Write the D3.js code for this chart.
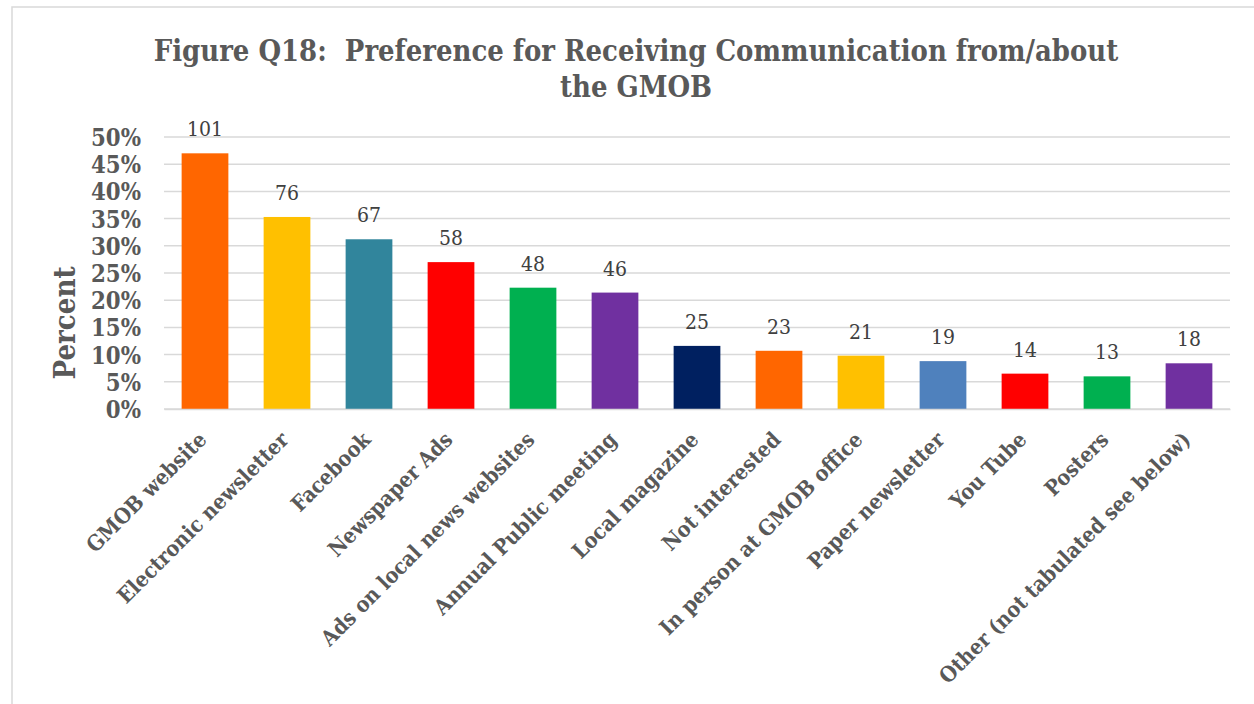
<!DOCTYPE html>
<html>
<head>
<meta charset="utf-8">
<script src="https://cdn.jsdelivr.net/npm/d3@7"></script>
<style>
  body { margin: 0; background: #ffffff; }
  svg text { font-family: "DejaVu Serif Condensed", "DejaVu Serif", "Liberation Serif", serif; font-stretch: condensed; }
</style>
</head>
<body>
<svg id="chart" width="1254" height="704"></svg>
<script>
// categories, counts shown over bars, and percent of respondents (bar height)
const categories = ["GMOB website", "Electronic newsletter", "Facebook", "Newspaper Ads",
    "Ads on local news websites", "Annual Public meeting", "Local magazine", "Not interested",
    "In person at GMOB office", "Paper newsletter", "You Tube", "Posters",
    "Other (not tabulated see below)"];
const counts = [101, 76, 67, 58, 48, 46, 25, 23, 21, 19, 14, 13, 18];
const percents = [47.0, 35.3, 31.2, 27.0, 22.3, 21.4, 11.6, 10.7, 9.8, 8.8, 6.5, 6.0, 8.4];
const barColors = ["#FF6600", "#FFC000", "#31859C", "#FF0000", "#00B050", "#7030A0",
    "#002060", "#FF6600", "#FFC000", "#4F81BD", "#FF0000", "#00B050", "#7030A0"];
const yTicks = [0, 5, 10, 15, 20, 25, 30, 35, 40, 45, 50];

const svg = d3.select("#chart");

// size a group of labels so that one sample text gets the wanted width
function fitFont(sel, sampleNode, target) {
    sel.style("font-size", "20px");
    let w = sampleNode.getComputedTextLength();
    sel.style("font-size", (20 * target / w).toFixed(2) + "px");
}

// outer chart border
svg.append("rect")
    .attr("x", 12).attr("y", 7)
    .attr("width", 1260).attr("height", 720)
    .attr("fill", "none")
    .attr("stroke", "#d9d9d9")
    .attr("stroke-width", 1.5);

const margin = { top: 137, left: 164, right: 24, bottom: 295 };
const width = 1254 - margin.left - margin.right;
const height = 704 - margin.top - margin.bottom;

const g = svg.append("g").attr("transform", `translate(${margin.left},${margin.top})`);

const x = d3.scaleBand().domain(categories).range([0, width]).paddingInner(0.43).paddingOuter(0.215);
const y = d3.scaleLinear().domain([0, 50]).range([height, 0]);

// gridlines
g.selectAll(".grid")
    .data(yTicks)
    .enter()
    .append("line")
    .attr("x1", 0).attr("x2", width)
    .attr("y1", d => y(d)).attr("y2", d => y(d))
    .attr("stroke", "#d9d9d9")
    .attr("stroke-width", 1.5);

// y axis labels
const yAxis = g.append("g")
    .call(d3.axisLeft(y).tickValues(yTicks).tickFormat(d => d + "%").tickSize(0).tickPadding(23));
yAxis.select(".domain").remove();
const yLabels = yAxis.selectAll("text")
    .attr("fill", "#595959")
    .attr("dy", "0.36em")
    .style("font-weight", "bold");
fitFont(yLabels, yLabels.nodes()[yLabels.size() - 1], 50);

// bars
g.selectAll(".bar")
    .data(percents)
    .enter()
    .append("rect")
    .attr("x", (d, i) => x(categories[i]))
    .attr("y", d => y(d))
    .attr("width", x.bandwidth())
    .attr("height", d => height - y(d))
    .attr("fill", (d, i) => barColors[i]);

// value labels
const vals = g.selectAll(".val")
    .data(counts)
    .enter()
    .append("text")
    .attr("x", (d, i) => x(categories[i]) + x.bandwidth() / 2)
    .attr("y", (d, i) => y(percents[i]) - 17)
    .attr("text-anchor", "middle")
    .attr("fill", "#404040")
    .text(d => d);
fitFont(vals, vals.nodes()[0], 36);

// x axis
const xAxis = g.append("g")
    .attr("transform", `translate(0,${height})`)
    .call(d3.axisBottom(x).tickSize(0).tickPadding(0));
xAxis.select(".domain").attr("stroke", "#d9d9d9").attr("stroke-width", 1.5);
const xLabels = xAxis.selectAll("text")
    .attr("fill", "#595959")
    .attr("text-anchor", "end")
    .attr("dy", null)
    .attr("y", 0)
    .attr("transform", "translate(3,32) rotate(-45)")
    .style("font-weight", "bold");
fitFont(xLabels, xLabels.nodes()[categories.length - 1], 345);

// y axis title
const yTitle = svg.append("text")
    .attr("transform", "translate(75,323) rotate(-90)")
    .attr("text-anchor", "middle")
    .attr("fill", "#595959")
    .style("font-weight", "bold")
    .text("Percent");
fitFont(yTitle, yTitle.node(), 113);

// chart title
const titleLines = ["Figure Q18:\u00a0\u00a0Preference for Receiving Communication from/about", "the GMOB"];
const title = svg.selectAll(".title")
    .data(titleLines)
    .enter()
    .append("text")
    .attr("x", 636)
    .attr("y", (d, i) => 61 + i * 36)
    .attr("text-anchor", "middle")
    .attr("fill", "#595959")
    .style("font-weight", "bold")
    .text(d => d);
fitFont(title, title.nodes()[0], 965);
</script>
</body>
</html>
